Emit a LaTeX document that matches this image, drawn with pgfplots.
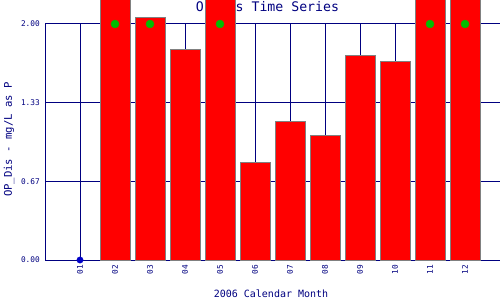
\documentclass[border=0pt]{standalone}
\usepackage{pgfplots}
\pgfplotsset{compat=1.18}
\usepackage{fontspec}
\setmainfont{DejaVu Sans Mono}
\setmonofont{DejaVu Sans Mono}
\definecolor{navyc}{RGB}{0,0,128}
\definecolor{barred}{RGB}{255,0,0}
\definecolor{bargray}{RGB}{128,128,128}
\definecolor{dotgreen}{RGB}{0,190,0}
\definecolor{dotblue}{RGB}{0,0,200}
\begin{document}
\begin{tikzpicture}[x=1bp,y=1bp]
\path[use as bounding box] (0,0) rectangle (500,300);
\node[text=navyc, font=\fontsize{13.2bp}{14bp}\selectfont] at (267.5,292) {OP\_Dis Time Series};
\node[text=navyc, font=\fontsize{10bp}{12bp}\selectfont] at (271,6) {2006 Calendar Month};
\node[text=navyc, rotate=90, font=\fontsize{10.6bp}{12bp}\selectfont] at (9,160.5) {OP\_Dis - mg/L as P};
\begin{axis}[
  at={(45bp,40bp)}, anchor=south west,
  scale only axis, width=455bp, height=260bp,
  xmin=0, xmax=13, ymin=0, ymax=2.2034,
  axis line style={draw=none},
  major tick length=0pt,
  xtick={1,...,12},
  xticklabels={01,02,03,04,05,06,07,08,09,10,11,12},
  ytick={0,0.6667,1.3333,2.0},
  yticklabels={0.00,0.67,1.33,2.00},
  ymajorgrids,
  grid style={navyc, line width=1bp},
  tick label style={text=navyc, font=\fontsize{7.8bp}{9bp}\selectfont},
  yticklabel style={anchor=east, inner sep=0pt, xshift=-5bp},
  xticklabel style={rotate=90, anchor=east, inner sep=0pt, xshift=-4.5bp},
  clip mode=individual,
]
\addplot[ycomb, navyc, line width=1bp, no marks] coordinates {
(0,2)(1,2)(2,2)(3,2)(4,2)(5,2)(6,2)(7,2)(8,2)(9,2)(10,2)(11,2)(12,2)};
\addplot[ybar, bar width=30bp, fill=barred, draw=bargray, line width=1bp] coordinates {
(2,2.5)(3,2.059)(4,1.788)(5,2.5)(6,0.828)(7,1.172)(8,1.057)(9,1.737)(10,1.686)(11,2.5)(12,2.5)};
\addplot[only marks, mark=*, mark size=4bp, draw=dotgreen, fill=dotgreen] coordinates {
(2,2)(3,2)(5,2)(11,2)(12,2)};
\addplot[only marks, mark=*, mark size=3.2bp, draw=dotblue, fill=dotblue] coordinates {
(1,0)};
\end{axis}
\end{tikzpicture}
\end{document}
